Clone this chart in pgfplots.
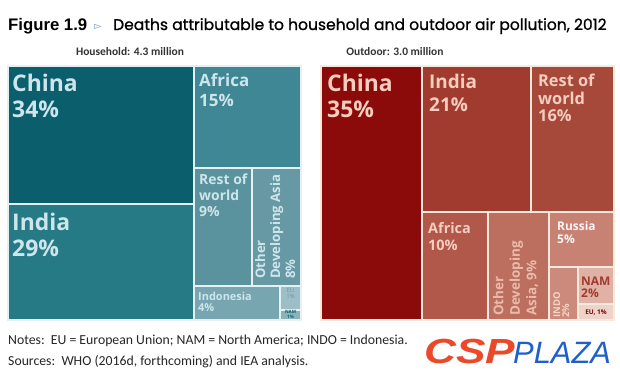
\documentclass[border=0pt]{standalone}
\usepackage{pgfplots}
\pgfplotsset{compat=1.18}
\usepackage{fontspec}
\setmainfont{Carlito}
\newfontfamily\arialf{Liberation Sans}
\newfontfamily\gothic[RawFeature={embolden=1.0}]{Poppins}
\newfontfamily\dejavu{DejaVu Sans}
\newfontfamily\lab{Open Sans}
\definecolor{lChina}{HTML}{0B5F6D}
\definecolor{lIndia}{HTML}{267A86}
\definecolor{lAfrica}{HTML}{3F8795}
\definecolor{lRow}{HTML}{5A929E}
\definecolor{lOda}{HTML}{6799A5}
\definecolor{lIndo}{HTML}{78A6B0}
\definecolor{lEU}{HTML}{9DBEC6}
\definecolor{lNAM}{HTML}{8AB2BB}
\definecolor{lText}{HTML}{CDE5EB}
\definecolor{lSep}{HTML}{E4F0F2}
\definecolor{rChina}{HTML}{8B0A0A}
\definecolor{rIndia}{HTML}{A13B2F}
\definecolor{rRow}{HTML}{A6493B}
\definecolor{rAfrica}{HTML}{B2584B}
\definecolor{rOda}{HTML}{BC6F5F}
\definecolor{rRussia}{HTML}{C78273}
\definecolor{rIndo}{HTML}{CB8A7B}
\definecolor{rNAM}{HTML}{E0B2A6}
\definecolor{rEU}{HTML}{EED3CA}
\definecolor{rText}{HTML}{F6CDBE}
\definecolor{rSep}{HTML}{F8E9DF}
\definecolor{logoRed}{HTML}{EA4A2A}
\definecolor{logoBlue}{HTML}{1F5FC9}
\definecolor{arrowBlue}{HTML}{6F98C8}
\tikzset{lbl/.style={anchor=north west, align=left, inner sep=0pt}}
\begin{document}
\begin{tikzpicture}
\begin{axis}[
  x=1bp, y=1bp, y dir=reverse,
  xmin=0, xmax=620, ymin=0, ymax=378,
  hide axis, clip=false,
  axis background/.style={fill=white},
]
% left panel (household)
\addplot[draw=lSep, line width=2bp, fill=lChina] coordinates {(8,66) (194,66) (194,204) (8,204)} -- cycle;
\addplot[draw=lSep, line width=2bp, fill=lIndia] coordinates {(8,204) (194,204) (194,320) (8,320)} -- cycle;
\addplot[draw=lSep, line width=2bp, fill=lAfrica] coordinates {(194,66) (301,66) (301,168) (194,168)} -- cycle;
\addplot[draw=lSep, line width=2bp, fill=lRow] coordinates {(194,168) (252,168) (252,286) (194,286)} -- cycle;
\addplot[draw=lSep, line width=2bp, fill=lOda] coordinates {(252,168) (301,168) (301,286) (252,286)} -- cycle;
\addplot[draw=lSep, line width=2bp, fill=lIndo] coordinates {(194,286) (280,286) (280,320) (194,320)} -- cycle;
\addplot[draw=lSep, line width=2bp, fill=lEU] coordinates {(280,286) (301,286) (301,309.5) (280,309.5)} -- cycle;
\addplot[draw=lSep, line width=2bp, fill=lNAM] coordinates {(280,309.5) (301,309.5) (301,320) (280,320)} -- cycle;
% right panel (outdoor)
\addplot[draw=rSep, line width=2bp, fill=rChina] coordinates {(321,66) (422,66) (422,320) (321,320)} -- cycle;
\addplot[draw=rSep, line width=2bp, fill=rIndia] coordinates {(422,66) (530.5,66) (530.5,212) (422,212)} -- cycle;
\addplot[draw=rSep, line width=2bp, fill=rRow] coordinates {(530.5,66) (614,66) (614,212) (530.5,212)} -- cycle;
\addplot[draw=rSep, line width=2bp, fill=rAfrica] coordinates {(422,212) (488,212) (488,320) (422,320)} -- cycle;
\addplot[draw=rSep, line width=2bp, fill=rOda] coordinates {(488,212) (549,212) (549,320) (488,320)} -- cycle;
\addplot[draw=rSep, line width=2bp, fill=rRussia] coordinates {(549,212) (614,212) (614,267) (549,267)} -- cycle;
\addplot[draw=rSep, line width=2bp, fill=rIndo] coordinates {(549,267) (578,267) (578,320) (549,320)} -- cycle;
\addplot[draw=rSep, line width=2bp, fill=rNAM] coordinates {(578,267) (614,267) (614,304) (578,304)} -- cycle;
\addplot[draw=rSep, line width=2bp, fill=rEU] coordinates {(578,304) (614,304) (614,320) (578,320)} -- cycle;

% titles
\node[anchor=base west, inner sep=0pt, font=\arialf\bfseries\fontsize{16.8}{18}\selectfont] at (axis cs:8,30) {Figure 1.9};
\node[anchor=base west, inner sep=0pt, text=arrowBlue, font=\dejavu\fontsize{10}{10}\selectfont] at (axis cs:94,29) {▻};
\node[anchor=base west, inner sep=0pt, font=\gothic\fontsize{15.6}{17}\selectfont] at (axis cs:113,30) {Deaths attributable to household and outdoor air pollution, 2012};
\node[anchor=base, inner sep=0pt, text=black!80, font=\bfseries\fontsize{11.5}{12}\selectfont] at (axis cs:130,55.5) {Household: 4.3 million};
\node[anchor=base, inner sep=0pt, text=black!80, font=\bfseries\fontsize{11.5}{12}\selectfont] at (axis cs:395,55.5) {Outdoor: 3.0 million};

% left labels
\node[lbl, text=lText, font=\lab\bfseries\fontsize{23}{26}\selectfont] at (axis cs:12,74) {China\\34\%};
\node[lbl, text=lText, font=\lab\bfseries\fontsize{23}{26}\selectfont] at (axis cs:12,213) {India\\29\%};
\node[lbl, text=lText, font=\lab\bfseries\fontsize{17}{20}\selectfont] at (axis cs:199,73) {Africa\\15\%};
\node[lbl, text=lText, font=\lab\bfseries\fontsize{14}{16}\selectfont] at (axis cs:199,174) {Rest of\\world\\9\%};
\node[lbl, rotate=90, text=lText, font=\lab\bfseries\fontsize{13.2}{15}\selectfont] at (axis cs:255,279) {Other\\Developing Asia\\8\%};
\node[lbl, text=lText, font=\lab\bfseries\fontsize{11}{11.5}\selectfont] at (axis cs:198,292) {Indonesia\\4\%};
\node[anchor=north, align=center, inner sep=0pt, text=lOda, font=\lab\fontsize{6}{6}\selectfont] at (axis cs:290.5,288.5) {EU\\1\%};
\node[anchor=north, align=center, inner sep=0pt, text=lChina, font=\lab\bfseries\fontsize{4.5}{4.5}\selectfont] at (axis cs:290.5,310.5) {NAM\\1\%};

% right labels
\node[lbl, text=rText, font=\lab\bfseries\fontsize{23}{26}\selectfont] at (axis cs:327,74) {China\\35\%};
\node[lbl, text=rText, font=\lab\bfseries\fontsize{19}{23}\selectfont] at (axis cs:429,74) {India\\21\%};
\node[lbl, text=rText, font=\lab\bfseries\fontsize{16.4}{17.5}\selectfont] at (axis cs:538,74) {Rest of\\world\\16\%};
\node[lbl, text=rText, font=\lab\bfseries\fontsize{14.5}{17}\selectfont] at (axis cs:428,222) {Africa\\10\%};
\node[lbl, rotate=90, text=rText!80!rOda, font=\lab\bfseries\fontsize{13.5}{16.5}\selectfont] at (axis cs:493,316) {Other\\Developing\\Asia, 9\%};
\node[lbl, text=white!92!rRussia, font=\lab\bfseries\fontsize{12}{13}\selectfont] at (axis cs:557,221) {Russia\\5\%};
\node[lbl, rotate=90, text=rText!90!white, font=\lab\bfseries\fontsize{9.5}{9}\selectfont] at (axis cs:553,318) {INDO\\2\%};
\node[lbl, text=rIndia, font=\lab\bfseries\fontsize{12}{12}\selectfont] at (axis cs:581,277) {NAM\\2\%};
\node[anchor=center, inner sep=0pt, text=rChina!80!black, font=\lab\bfseries\fontsize{6.5}{7}\selectfont] at (axis cs:596,312.5) {EU, 1\%};

% notes
\node[anchor=base west, inner sep=0pt, text=black!85, font=\fontsize{13.8}{15}\selectfont] at (axis cs:8,344) {Notes:\ \ EU = European Union; NAM = North America; INDO = Indonesia.};
\node[anchor=base west, inner sep=0pt, text=black!85, font=\fontsize{13.8}{15}\selectfont] at (axis cs:8,365) {Sources:\ \ WHO (2016d, forthcoming) and IEA analysis.};

% logo
\node[anchor=base west, inner sep=0pt, text=logoRed, font=\arialf\bfseries\itshape\fontsize{35}{36}\selectfont] at (axis cs:424,363) {\scalebox{1.27}[1]{CSP}};
\node[anchor=base west, inner sep=0pt, text=logoBlue, font=\arialf\itshape\fontsize{31}{32}\selectfont] at (axis cs:513,363) {PLAZA};
\end{axis}
\end{tikzpicture}
\end{document}
